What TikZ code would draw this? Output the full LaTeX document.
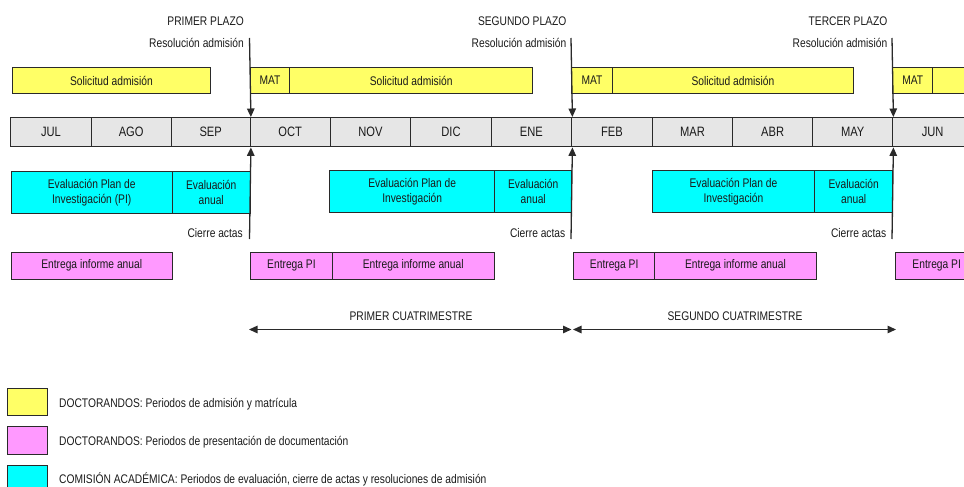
\documentclass[tikz,border=0pt]{standalone}
\usepackage{fontspec}
\setmainfont{Liberation Sans}[FakeStretch=0.82]
\usetikzlibrary{arrows.meta}
\definecolor{ylw}{HTML}{FFFF66}
\definecolor{mag}{HTML}{FF99FF}
\definecolor{cyn}{HTML}{00FFFF}
\definecolor{gry}{HTML}{E6E6E6}
\definecolor{edge}{HTML}{2A2A2A}
\definecolor{txt}{HTML}{1A1A1A}
\newcommand\Bx[7]{\node[#2, minimum width={(#5-#3)*1pt}, minimum height={(#6-#4)*1pt}] (#1) at (#3,#4) {#7};}
\begin{document}
\begin{tikzpicture}[x=1pt,y=-1pt,
  bx/.style={draw=edge, line width=1.4pt, anchor=north west, inner sep=0pt, align=center, text=txt,
    font=\fontsize{12.5}{15.5}\selectfont},
  ybox/.style={bx, fill=ylw},
  mbox/.style={bx, fill=mag},
  cbox/.style={bx, fill=cyn},
  monbox/.style={bx, fill=gry, font=\fontsize{13.6}{16}\selectfont},
  lbl/.style={inner sep=0pt, text=txt, font=\fontsize{12.5}{15}\selectfont},
  vl/.style={draw=edge, line width=1.3pt},
  tip/.tip={Triangle[length=8.5pt,width=7.5pt]},
  vla/.style={vl, -tip},
  cua/.style={vl, tip-tip}
]
\clip (0,0) rectangle (964,487);
\useasboundingbox (0,0) rectangle (964,487);

% yellow row
\Bx{s1}{ybox}{11.5}{67}{210}{93}{Solicitud admisión}
\Bx{mat1}{ybox}{249.5}{67}{289}{93}{MAT}
\Bx{s2}{ybox}{289}{67}{532}{93}{Solicitud admisión}
\Bx{mat2}{ybox}{571}{67}{611.5}{93}{MAT}
\Bx{s3}{ybox}{611.5}{67}{853}{93}{Solicitud admisión}
\Bx{mat3}{ybox}{892}{67}{932}{93}{MAT}
\Bx{s4}{ybox}{932}{67}{1120}{93}{}

% months
\Bx{jul}{monbox}{10}{117}{90.5}{146}{JUL}
\Bx{ago}{monbox}{90.5}{117}{170.5}{146}{AGO}
\Bx{sep}{monbox}{170.5}{117}{249.5}{146}{SEP}
\Bx{oct}{monbox}{249.5}{117}{329.5}{146}{OCT}
\Bx{nov}{monbox}{329.5}{117}{410}{146}{NOV}
\Bx{dic}{monbox}{410}{117}{490.5}{146}{DIC}
\Bx{ene}{monbox}{490.5}{117}{571}{146}{ENE}
\Bx{feb}{monbox}{571}{117}{651.5}{146}{FEB}
\Bx{mar}{monbox}{651.5}{117}{732}{146}{MAR}
\Bx{abr}{monbox}{732}{117}{812}{146}{ABR}
\Bx{may}{monbox}{812}{117}{892}{146}{MAY}
\Bx{jun}{monbox}{892}{117}{972}{146}{JUN}

% cyan row
\Bx{e1}{cbox}{10.5}{170.5}{171.5}{213}{Evaluación Plan de\\Investigación (PI)}
\Bx{a1}{cbox}{171.5}{170.5}{249.5}{213}{Evaluación\\anual}
\Bx{e2}{cbox}{329}{169.5}{494}{212}{Evaluación Plan de\\Investigación}
\Bx{a2}{cbox}{494}{169.5}{571}{212}{Evaluación\\anual}
\Bx{e3}{cbox}{651.5}{169.5}{814}{212}{Evaluación Plan de\\Investigación}
\Bx{a3}{cbox}{814}{169.5}{892}{212}{Evaluación\\anual}

% magenta row
\Bx{m1}{mbox}{10.5}{251.5}{171.5}{278.5}{Entrega informe anual}
\Bx{pi1}{mbox}{250}{251.5}{331.5}{278.5}{Entrega PI}
\Bx{m2}{mbox}{331.5}{251.5}{493.5}{278.5}{Entrega informe anual}
\Bx{pi2}{mbox}{573}{251.5}{654}{278.5}{Entrega PI}
\Bx{m3}{mbox}{654}{251.5}{815.5}{278.5}{Entrega informe anual}
\Bx{pi3}{mbox}{895}{251.5}{977}{278.5}{Entrega PI}

% plazo markers
\coordinate (t1) at (249.5,38);
\coordinate (b1) at (249.5,239);
\coordinate (t2) at (571,38);
\coordinate (b2) at (571,239);
\coordinate (t3) at (892,38);
\coordinate (b3) at (892,239);
\draw[vla] (t1) -- (sep.north east);
\draw[vla] (b1) -- (sep.south east);
\draw[vla] (t2) -- (ene.north east);
\draw[vla] (b2) -- (ene.south east);
\draw[vla] (t3) -- (may.north east);
\draw[vla] (b3) -- (may.south east);

\node[lbl, anchor=base east] (pl1) at (244,25.5) {PRIMER PLAZO};
\node[lbl, anchor=base east] (ra1) at (244,48) {Resolución admisión};
\node[lbl, anchor=base east] (ca1) at (243,237.5) {Cierre actas};
\node[lbl, anchor=base east] (pl2) at (566.5,25.5) {SEGUNDO PLAZO};
\node[lbl, anchor=base east] (ra2) at (566.5,48) {Resolución admisión};
\node[lbl, anchor=base east] (ca2) at (565.5,237.5) {Cierre actas};
\node[lbl, anchor=base east] (pl3) at (887.5,25.5) {TERCER PLAZO};
\node[lbl, anchor=base east] (ra3) at (887.5,48) {Resolución admisión};
\node[lbl, anchor=base east] (ca3) at (886.5,237.5) {Cierre actas};

% cuatrimestres
\coordinate (c1a) at (249,329.5);
\coordinate (c1b) at (571.5,329.5);
\coordinate (c2a) at (573,329.5);
\coordinate (c2b) at (896,329.5);
\draw[cua] (c1a) -- (c1b);
\draw[cua] (c2a) -- (c2b);
\node[lbl, anchor=base] (cu1) at (411,320.5) {PRIMER CUATRIMESTRE};
\node[lbl, anchor=base] (cu2) at (735,320.5) {SEGUNDO CUATRIMESTRE};

% legend
\Bx{lg1}{ybox}{6.5}{387.5}{46.5}{415}{}
\Bx{lg2}{mbox}{6.5}{426}{46.5}{453.5}{}
\Bx{lg3}{cbox}{6.5}{465}{46.5}{493}{}
\node[lbl, anchor=base west] (lt1) at (59,407) {DOCTORANDOS: Periodos de admisión y matrícula};
\node[lbl, anchor=base west] (lt2) at (59,445) {DOCTORANDOS: Periodos de presentación de documentación};
\node[lbl, anchor=base west] (lt3) at (59,483.5) {COMISIÓN ACADÉMICA: Periodos de evaluación, cierre de actas y resoluciones de admisión};
\end{tikzpicture}
\end{document}
